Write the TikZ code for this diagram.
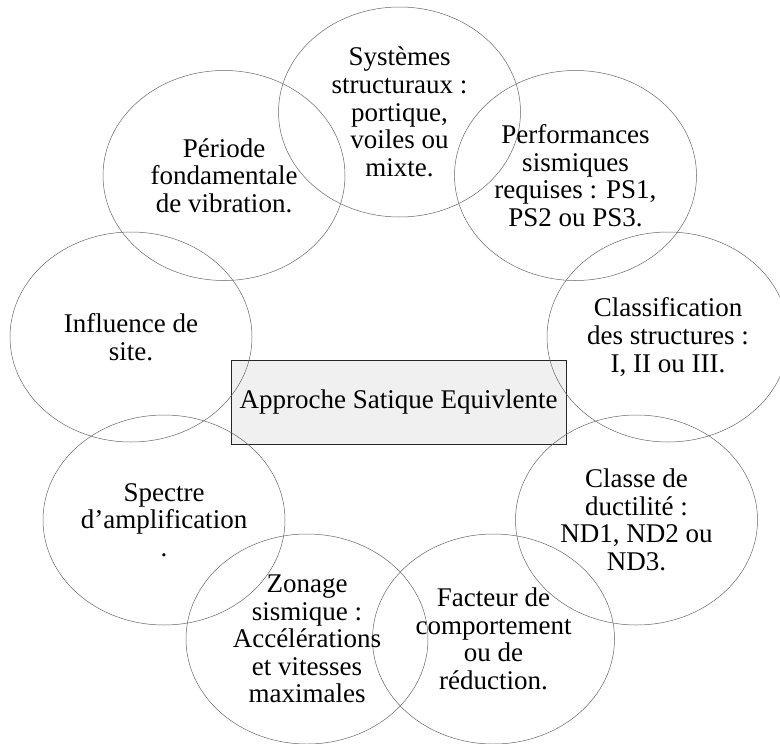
\documentclass[tikz,border=0pt]{standalone}
\usepackage{fontspec}
\setmainfont{Liberation Serif}
\usetikzlibrary{shapes.geometric, positioning}

\begin{document}
\begin{tikzpicture}[
    x=1pt, y=-1pt,
    every node/.style={font=\fontsize{27}{27.6}\selectfont, align=center},
    critere/.style={ellipse, draw=black!60, line width=0.5pt, inner sep=0pt,
        minimum width=242pt, minimum height=210pt},
    approche/.style={rectangle, draw=black!85, line width=1pt, fill=black!6,
        minimum width=335pt, minimum height=84pt}
]
    \useasboundingbox (0,0) rectangle (780,744);

    \node[approche] (centre) at (398.5,402) {Approche Satique Equivlente};

    \node[critere] (systemes) at (399.5,112) {Systèmes\\structuraux :\\portique,\\voiles ou\\mixte.};
    \node[critere] (performances) at (575.5,175.5) {Performances\\sismiques\\requises : PS1,\\PS2 ou PS3.};
    \node[critere] (classification) at (668,337) {Classification\\des structures :\\I, II ou III.};
    \node[critere] (ductilite) at (636.5,520) {Classe de\\ductilité :\\ND1, ND2 ou\\ND3.};
    \node[critere] (facteur) at (493.5,639) {Facteur de\\comportement\\ou de\\réduction.};
    \node[critere] (zonage) at (307,639) {Zonage\\sismique :\\Accélérations\\et vitesses\\maximales};
    \node[critere] (spectre) at (164,520) {Spectre\\d’amplification\\.};
    \node[critere] (site) at (131,337) {Influence de\\site.};
    \node[critere] (periode) at (224,175.5) {Période\\fondamentale\\de vibration.};

\end{tikzpicture}
\end{document}
